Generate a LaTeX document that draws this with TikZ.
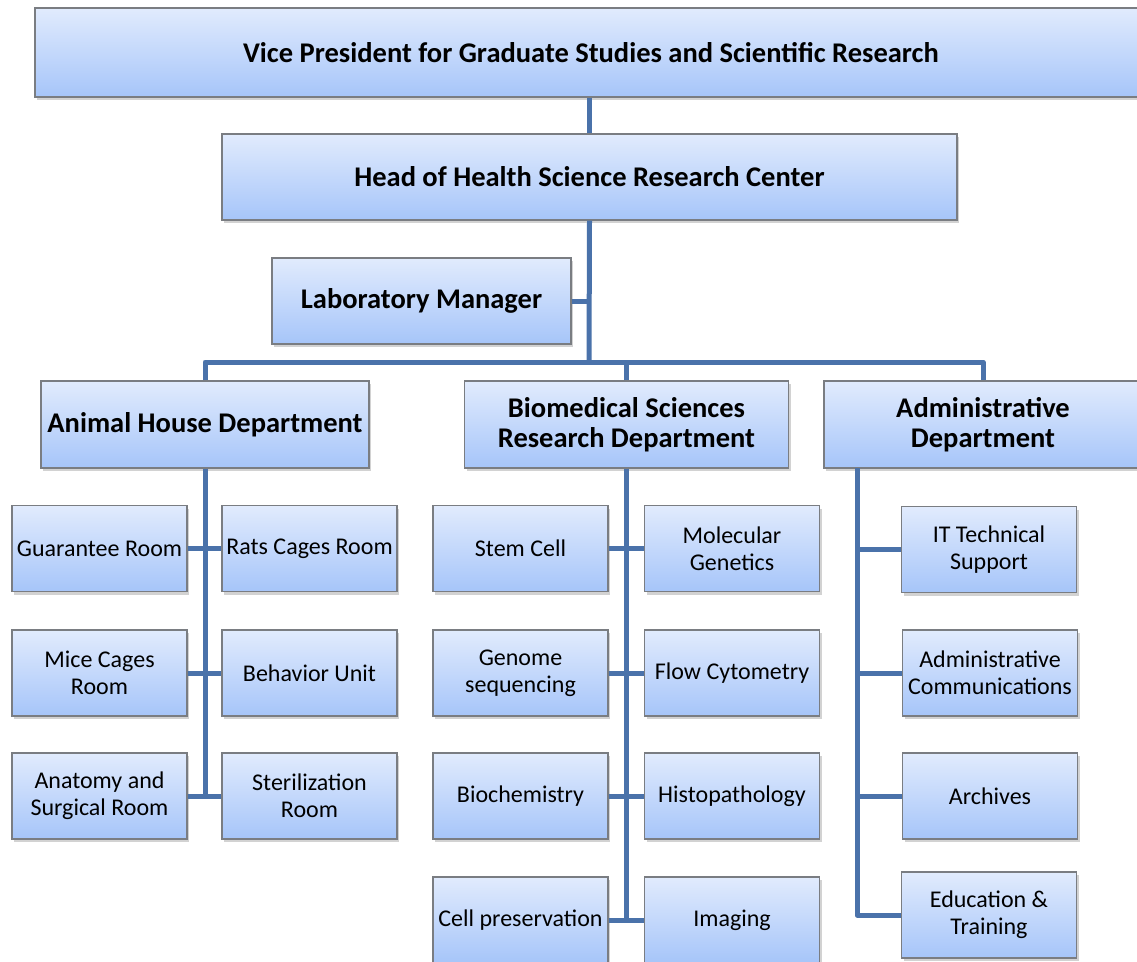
\documentclass[tikz,border=0pt]{standalone}
\usepackage{fontspec}
\setmainfont{Carlito}
\usepackage{tikz}
\usetikzlibrary{shadows}

\definecolor{boxtop}{HTML}{E1EBFD}
\definecolor{boxbot}{HTML}{A6C5F9}
\definecolor{boxline}{HTML}{7A7D82}
\definecolor{linkcol}{HTML}{4A72AA}

\tikzset{
  unit/.style={draw=boxline, line width=1.2pt, top color=boxtop, bottom color=boxbot,
    drop shadow={shadow xshift=2pt, shadow yshift=-3pt, opacity=0.35},
    align=center, inner sep=0pt},
  head/.style={unit, font=\fontsize{28.5}{30.5}\selectfont\bfseries},
  room/.style={unit, minimum width=175pt, minimum height=86pt, font=\fontsize{24}{27}\selectfont},
  link/.style={draw=linkcol, line width=5pt, line join=round}
}

\begin{document}
\begin{tikzpicture}[x=1pt,y=-1pt]
  \useasboundingbox[fill=white] (0,0) rectangle (1137,961);

  \node[head, minimum width=1112pt, minimum height=89pt] (vp) at (591,52.5)
    {Vice President for Graduate Studies and Scientific Research};
  \node[head, minimum width=735pt, minimum height=86pt] (hc) at (589.5,177)
    {Head of Health Science Research Center};
  \node[head, minimum width=299pt, minimum height=86pt] (lm) at (421.5,301)
    {Laboratory Manager};

  \node[head, minimum width=328pt, minimum height=87pt] (animal) at (205,424.5)
    {Animal House Department};
  \node[head, minimum width=324pt, minimum height=87pt] (biomed) at (626.5,424.5)
    {Biomedical Sciences\\Research Department};
  \node[head, minimum width=318pt, minimum height=87pt] (admin) at (983,424.5)
    {Administrative\\Department};

  \node[room] (a1) at (99.5,548.5) {Guarantee Room};
  \node[room] (a2) at (309.5,548.5) {Rats Cages Room};
  \node[room] (a3) at (99.5,673) {Mice Cages\\Room};
  \node[room] (a4) at (309.5,673) {Behavior Unit};
  \node[room] (a5) at (99.5,796) {Anatomy and\\Surgical Room};
  \node[room] (a6) at (309.5,796) {Sterilization\\Room};

  \node[room] (b1) at (520.5,548.5) {Stem Cell};
  \node[room] (b2) at (732,548.5) {Molecular\\Genetics};
  \node[room] (b3) at (520.5,673) {Genome\\sequencing};
  \node[room] (b4) at (732,673) {Flow Cytometry};
  \node[room] (b5) at (520.5,796) {Biochemistry};
  \node[room] (b6) at (732,796) {Histopathology};
  \node[room] (b7) at (520.5,920) {Cell preservation};
  \node[room] (b8) at (732,920) {Imaging};

  \node[room] (c1) at (989,549.5) {IT Technical\\Support};
  \node[room] (c2) at (990,673) {Administrative\\Communications};
  \node[room] (c3) at (990,796) {Archives};
  \node[room] (c4) at (989,915) {Education \&\\Training};

  \coordinate (bus) at (589,362);
  \coordinate (spine) at (857,468);

  \draw[link] (hc.north) -- (hc.north |- vp.south);
  \draw[link] (hc.south) -- (bus);
  \draw[link] (lm.east) -- (lm.east -| bus);
  \draw[link] (animal.north) -- (animal.north |- bus) -- (admin.north |- bus) -- (admin.north);
  \draw[link] (biomed.north) -- (biomed.north |- bus);

  \draw[link] (animal.south) -- (animal.south |- a5);
  \draw[link] (a1.east) -- (a2.west);
  \draw[link] (a3.east) -- (a4.west);
  \draw[link] (a5.east) -- (a6.west);

  \draw[link] (biomed.south) -- (biomed.south |- b7);
  \draw[link] (b1.east) -- (b2.west);
  \draw[link] (b3.east) -- (b4.west);
  \draw[link] (b5.east) -- (b6.west);
  \draw[link] (b7.east) -- (b8.west);

  \draw[link] (spine) |- (c4.west);
  \draw[link] (spine |- c1) -- (c1.west);
  \draw[link] (spine |- c2) -- (c2.west);
  \draw[link] (spine |- c3) -- (c3.west);
\end{tikzpicture}
\end{document}
